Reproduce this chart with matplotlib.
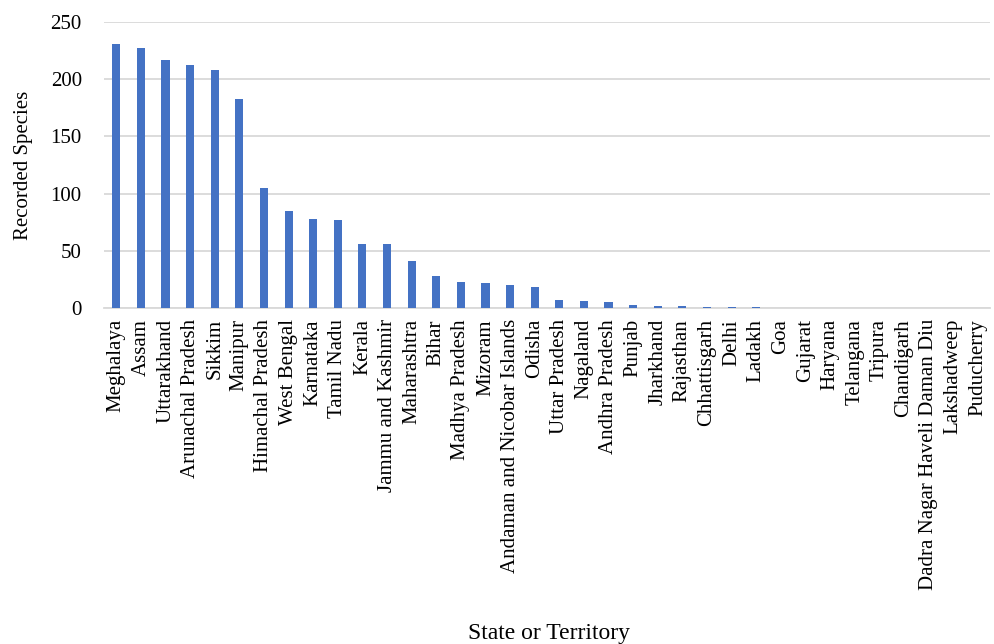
import matplotlib
matplotlib.use("Agg")
import matplotlib.pyplot as plt
import numpy as np

# species recorded per state / territory
states = ["Meghalaya", "Assam", "Uttarakhand", "Arunachal Pradesh", "Sikkim", "Manipur",
          "Himachal Pradesh", "West Bengal", "Karnataka", "Tamil Nadu", "Kerala",
          "Jammu and Kashmir", "Maharashtra", "Bihar", "Madhya Pradesh", "Mizoram",
          "Andaman and Nicobar Islands", "Odisha", "Uttar Pradesh", "Nagaland",
          "Andhra Pradesh", "Punjab", "Jharkhand", "Rajasthan", "Chhattisgarh", "Delhi",
          "Ladakh", "Goa", "Gujarat", "Haryana", "Telangana", "Tripura", "Chandigarh",
          "Dadra Nagar Haveli Daman Diu", "Lakshadweep", "Puducherry"]
species = [231, 227, 217, 212, 208, 183, 105, 85, 78, 77, 56, 56, 41, 28, 23, 22,
           20, 18, 7, 6, 5, 3, 2, 2, 1, 1, 1, 0, 0, 0, 0, 0, 0, 0, 0, 0]
yticks = [0, 50, 100, 150, 200, 250]

plt.rcParams['font.family'] = ['Liberation Serif', 'DejaVu Serif']

fig = plt.figure(figsize=(9.95, 6.44), dpi=100)
ax = fig.add_axes([104/995, 1 - 308/644, 886/995, 286/644])

x = np.arange(len(states))
ax.bar(x, species, width=0.33, color="#4472C4", zorder=3)

ax.set_xlim(-0.5, len(states) - 0.5)
ax.set_ylim(0, 250)
ax.set_yticks(yticks)
ax.set_xticks(x)
ax.set_xticklabels(states, rotation=90, fontsize=15)
ax.tick_params(axis='y', labelsize=15, length=0, pad=16)
ax.tick_params(axis='x', length=0, pad=8)
ax.grid(axis='y', color="#D9D9D9", linewidth=1.3, zorder=0)
for s in ["top", "right", "left"]:
    ax.spines[s].set_visible(False)
ax.spines["bottom"].set_color("#D9D9D9")
ax.spines["bottom"].set_linewidth(1.3)

ax.set_ylabel("Recorded Species", fontsize=15)
ax.yaxis.set_label_coords(-71/886, 0.5)
fig.text(549/995, 1 - 634/644, "State or Territory", fontsize=17, ha="center", va="center")

fig.savefig("out.png", dpi=100)
